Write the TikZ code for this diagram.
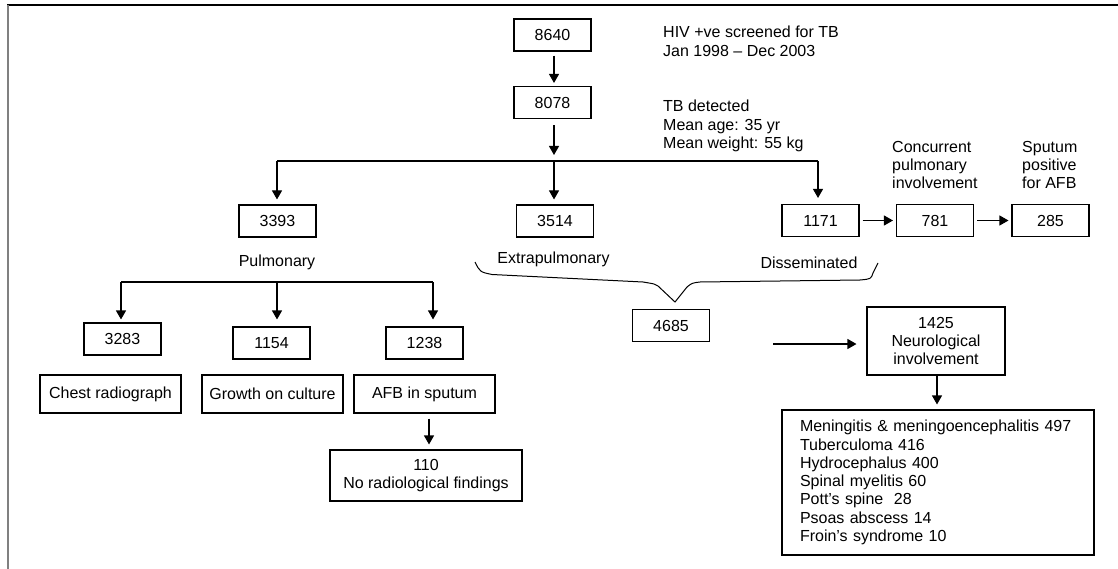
\documentclass[tikz,border=0pt]{standalone}
\usepackage{fontspec}
\setmainfont{Liberation Sans}
\usetikzlibrary{calc}
\usetikzlibrary{arrows.meta}

\begin{document}
\begin{tikzpicture}[x=1pt, y=-1pt, font=\fontsize{16}{18.3}\selectfont,
        numbox/.style={draw, line width=1.1pt, minimum width=77pt, minimum height=32pt, inner sep=2pt, align=center},
        wordbox/.style={numbox, minimum width=141pt, minimum height=38pt},
        note/.style={inner sep=0pt, anchor=north west, align=left},
        arr/.style={line width=1.1pt, -{Triangle[length=9pt,width=10pt]}}]
        \useasboundingbox (0,0) rectangle (1118,569);

        %RAHMEN
        \draw[line width=1.1pt] (7,5) -- (1118,5);
        \draw[gray, line width=1.5pt] (8,5) -- (8,569);

        %KOORDINAT
        \coordinate (split) at (554,161);
        \coordinate (bl) at (277,161);
        \coordinate (br) at (818,161);
        \coordinate (pl) at (121,282);
        \coordinate (pm) at (277,282);
        \coordinate (pr) at (433,282);
        \coordinate (neurostart) at (773,344);

        %KOTAK
        \node[numbox] (n8640) at (552.5,35) {8640};
        \node[numbox] (n8078) at (552.5,102.5) {8078};
        \node[numbox] (n3393) at (277.5,221) {3393};
        \node[numbox] (n3514) at (555,221) {3514};
        \node[numbox] (n1171) at (820.5,220.5) {1171};
        \node[numbox] (n781) at (935,220.5) {781};
        \node[numbox] (n285) at (1050.5,220.5) {285};
        \node[numbox] (n3283) at (122.5,339) {3283};
        \node[numbox] (n1154) at (271.5,343) {1154};
        \node[numbox] (n1238) at (424.5,343) {1238};
        \node[wordbox] (chest) at (110.5,394) {Chest radiograph};
        \node[wordbox] (growth) at (272.5,394) {Growth on culture};
        \node[wordbox] (afb) at (424.5,394) {AFB in sputum};
        \node[numbox, minimum width=192pt, minimum height=51pt] (n110) at (426,475.5) {110\\No radiological findings};
        \node[numbox] (n4685) at (671,325.5) {4685};
        \node[numbox, minimum width=138pt, minimum height=68pt] (n1425) at (936,341) {1425\\Neurological\\involvement};
        \node[draw, line width=1.1pt, align=left, text width=276pt, inner xsep=18pt, minimum height=145pt] (neuro) at (938,482.5)
            {Meningitis \& meningoencephalitis 497\\Tuberculoma 416\\Hydrocephalus 400\\Spinal myelitis 60\\Pott’s spine\ \ 28\\Psoas abscess 14\\Froin’s syndrome 10};

        %TEKS
        \node[note] (screen) at (663,26) {HIV +ve screened for TB\\Jan 1998 – Dec 2003};
        \node[note] (detect) at (663,100) {TB detected\\Mean age: 35 yr\\Mean weight: 55 kg};
        \node[note] (concur) at (892,141) {Concurrent\\pulmonary\\involvement};
        \node[note] (sputum) at (1022,141) {Sputum\\positive\\for AFB};
        \node[inner sep=0pt, anchor=base] (pulm) at (277,266) {Pulmonary};
        \node[inner sep=0pt, anchor=base] (extra) at (553.5,263) {Extrapulmonary};
        \node[inner sep=0pt, anchor=base] (dissem) at (809,268) {Disseminated};

        %PANAH
        \draw[arr, shorten <=4pt, shorten >=3pt] (n8640.south -| split) -- (n8078.north -| split);
        \draw[arr, shorten <=6pt, shorten >=6pt] (n8078.south -| split) -- (split);
        \draw[line width=1.1pt] (bl) -- (br);
        \draw[arr, shorten >=5pt] (bl) -- (bl |- n3393.north);
        \draw[arr, shorten >=5pt] (split) -- (split |- n3514.north);
        \draw[arr, shorten >=6pt] (br) -- (br |- n1171.north);
        \draw[arr, shorten <=3pt, shorten >=3pt] (n1171) -- (n781);
        \draw[arr, shorten <=3pt, shorten >=3pt] (n781) -- (n285);

        \draw[line width=1.1pt] (pl) -- (pr);
        \draw[arr, shorten >=3pt] (pl) -- (pl |- n3283.north);
        \draw[arr, shorten >=7pt] (pm) -- (pm |- n1154.north);
        \draw[arr, shorten >=7pt] (pr) -- (pr |- n1238.north);
        \draw[arr, shorten <=5pt, shorten >=5pt] (afb.south -| 429,0) -- (n110.north -| 429,0);

        \draw[arr, shorten >=10pt] (neurostart) -- (neurostart -| n1425.west);
        \draw[arr, shorten >=5pt] (n1425.south -| 937,0) -- (neuro.north -| 937,0);

        %KURUNG
        \draw[line width=1pt] (475,262) .. controls (480,272) .. (492,274.5) -- (643,282)
            .. controls (655,284) .. (658,286) -- (675,302) -- (687,287)
            .. controls (692,283) .. (700,282) -- (860,280)
            .. controls (871,279) .. (873,273) -- (878,263);
    \end{tikzpicture}
\end{document}
